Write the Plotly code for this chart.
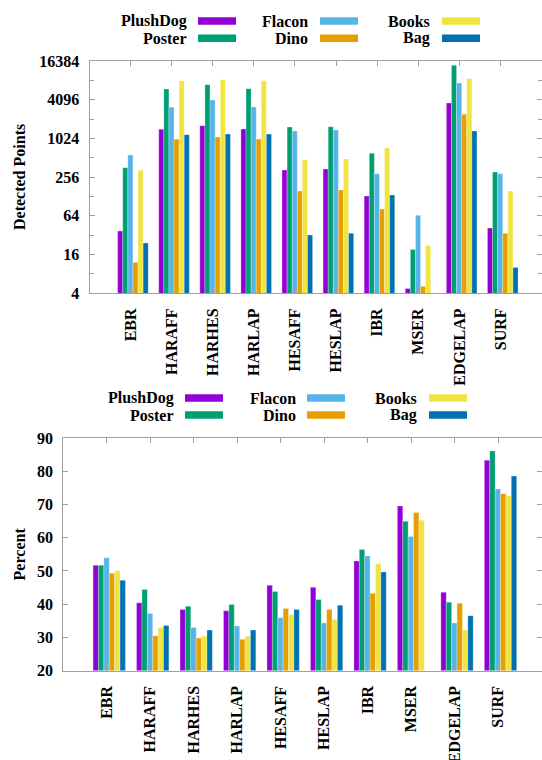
import math
import plotly.graph_objects as go

# Detector names along the x axis
detectors = ["EBR", "HARAFF", "HARHES", "HARLAP", "HESAFF", "HESLAP",
             "IBR", "MSER", "EDGELAP", "SURF"]

# Objects (series)
objects = ["PlushDog", "Poster", "Flacon", "Dino", "Books", "Bag"]

# Number of detected points per detector and object
points_plushdog = [37, 1413, 1612, 1430, 329, 341, 129, 4.7, 3633, 41]
points_poster = [357, 5999, 7016, 6075, 1537, 1555, 598, 19, 14032, 306]
points_flacon = [563, 3110, 4043, 3147, 1332, 1380, 288, 65, 7443, 288]
points_dino = [12, 988, 1073, 1000, 155, 161, 81, 5.1, 2421, 34]
points_books = [325, 7995, 8380, 8080, 476, 488, 733, 22, 8694, 155]
points_bag = [24, 1168, 1196, 1196, 32, 34, 134, None, 1332, 10]

# Percentages per detector and object
percent_plushdog = [51.7, 40.4, 38.4, 38.0, 45.7, 45.1, 53.0, 69.6, 43.6, 83.4]
percent_poster = [51.7, 44.4, 39.4, 39.9, 43.8, 41.4, 56.5, 65.0, 40.6, 86.2]
percent_flacon = [54.0, 37.2, 33.0, 33.4, 35.9, 34.3, 54.5, 60.4, 34.3, 74.7]
percent_dino = [49.3, 30.5, 29.8, 29.4, 38.7, 38.4, 43.3, 67.6, 40.3, 73.3]
percent_books = [50.1, 33.0, 30.3, 30.3, 36.8, 35.4, 52.2, 65.3, 32.2, 72.7]
percent_bag = [47.2, 33.6, 32.2, 32.2, 38.4, 39.7, 49.7, None, 36.5, 78.6]

# Tick labels
points_ticks = [4, 16, 64, 256, 1024, 4096, 16384]
points_minor = [8, 32, 128, 512, 2048, 8192]
percent_ticks = [20, 30, 40, 50, 60, 70, 80, 90]

points_series = [points_plushdog, points_poster, points_flacon,
                 points_dino, points_books, points_bag]
percent_series = [percent_plushdog, percent_poster, percent_flacon,
                  percent_dino, percent_books, percent_bag]
colors = ["#9400d3", "#009e73", "#56b4e9", "#e69f00", "#f0e442", "#0072b2"]

W, H = 542, 760


def px(x):
    return x / W


def py(y):
    return 1 - y / H


FONT = "Liberation Serif"
AXIS_GREY = "#a0a0a0"
BAR_W = 0.124
BAR_START = -0.315

fig = go.Figure()
xs = list(range(len(detectors)))
for k, name in enumerate(objects):
    for vals, xa, ya in ((points_series[k], "x", "y"),
                         (percent_series[k], "x2", "y2")):
        fig.add_trace(go.Bar(
            x=xs, y=vals, name=name, xaxis=xa, yaxis=ya,
            width=BAR_W, offset=BAR_START + k * BAR_W,
            marker=dict(color=colors[k],
                        line=dict(color="rgba(255,255,255,0.45)", width=0.6)),
            showlegend=False,
        ))

tick_font = dict(family=FONT, size=16, color="black", weight="bold")

common_x = dict(
    range=[-1, 10], tickmode="array", tickvals=xs, ticktext=detectors,
    tickangle=-90, ticks="inside", ticklen=5, tickcolor=AXIS_GREY,
    showline=True, linecolor=AXIS_GREY, linewidth=1, mirror="ticks",
    showgrid=False, zeroline=False, tickfont=tick_font,
    ticklabelstandoff=8, automargin=False,
)
common_y = dict(
    ticks="inside", ticklen=5, tickcolor=AXIS_GREY,
    showline=True, linecolor=AXIS_GREY, linewidth=1, mirror="ticks",
    showgrid=False, zeroline=False, tickfont=tick_font,
    ticklabelstandoff=6, automargin=False,
)

fig.update_layout(
    template="none",
    width=W, height=H, autosize=False,
    margin=dict(l=0, r=0, t=0, b=0),
    paper_bgcolor="white", plot_bgcolor="white",
    barmode="overlay",
    xaxis=dict(domain=[px(89.5), px(541.5)], anchor="y", **common_x),
    yaxis=dict(domain=[py(293), py(61)], anchor="x", type="log",
               range=[math.log10(4), math.log10(16384)],
               tickmode="array", tickvals=points_ticks,
               ticktext=[str(v) for v in points_ticks],
               minor=dict(tickmode="array", tickvals=points_minor,
                          ticks="inside", ticklen=4, tickcolor=AXIS_GREY),
               **common_y),
    xaxis2=dict(domain=[px(63.3), px(541.5)], anchor="y2", **common_x),
    yaxis2=dict(domain=[py(670.5), py(438.3)], anchor="x2",
                range=[20, 90], tickmode="array", tickvals=percent_ticks,
                **common_y),
)

title_font = dict(family=FONT, size=16, color="black", weight="bold")
annotations = [
    dict(text="Detected Points", x=px(19), y=py(177), textangle=-90),
    dict(text="Percent", x=px(19), y=py(554.4), textangle=-90),
]
for a in annotations:
    a.update(xref="paper", yref="paper", showarrow=False, font=title_font,
             xanchor="center", yanchor="middle")

shapes = []
# Two legends, each three columns of two entries, text left of the swatch
legend_layouts = [
    dict(text_right=[189, 310, 432], swatch_left=[198, 320, 442],
         rows=[21, 38.3]),
    dict(text_right=[176.3, 297.7, 419.3], swatch_left=[185, 307, 429],
         rows=[398, 415]),
]
for lay in legend_layouts:
    for k, name in enumerate(objects):
        col, row = k // 2, k % 2
        yc = lay["rows"][row]
        annotations.append(dict(
            text=name, x=px(lay["text_right"][col]), y=py(yc),
            xref="paper", yref="paper", xanchor="right", yanchor="middle",
            showarrow=False, font=title_font,
        ))
        x0 = lay["swatch_left"][col]
        shapes.append(dict(
            type="rect", xref="paper", yref="paper",
            x0=px(x0), x1=px(x0 + 38), y0=py(yc + 3.8), y1=py(yc - 3.8),
            fillcolor=colors[k], line=dict(width=0),
        ))

fig.update_layout(annotations=annotations, shapes=shapes)
fig.write_html("out.html")
